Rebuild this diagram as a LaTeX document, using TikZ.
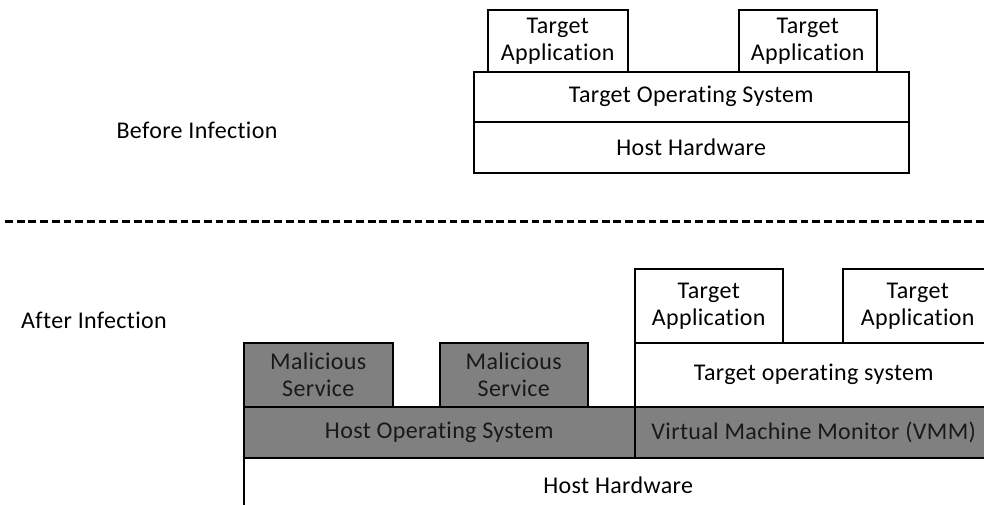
\documentclass[tikz,border=0pt]{standalone}
\usepackage{fontspec}
\setmainfont{Carlito}[Ligatures={NoCommon,NoContextual}, LetterSpace=1.5]

\begin{document}
\begin{tikzpicture}[x=0.5pt,y=-0.5pt,font=\fontsize{12}{13.5}\selectfont,
    layer/.style={draw, line width=0.75pt, anchor=north west, inner sep=0pt, align=center},
    infected/.style={layer, fill=black!50, text=black!90}]

            \useasboundingbox (0,0) rectangle (984,504);

            % before infection

            \node [] (before) at (197,130) {Before Infection};

            \node [layer, minimum width=70pt, minimum height=31pt] (tapp1) at (487,9) {Target\\Application};
            \node [layer, minimum width=69pt, minimum height=31pt] (tapp2) at (738,9) {Target\\Application};

            \node [layer, minimum width=217.5pt, minimum height=25pt] (tos) at (473,71) {Target Operating System};
            \node [layer, minimum width=217.5pt, minimum height=25.5pt] (thw) at (473,121) {Host Hardware};

            % separator

            \draw[line width=1.5pt, dash pattern=on 3.9pt off 1.95pt] (5,221) -- (990,221);

            % after infection

            \node [] (after) at (94,320) {After Infection};

            \node [layer, minimum width=374.5pt, minimum height=27.5pt] (hhw) at (243,457) {Host Hardware};

            \node [infected, minimum width=195.5pt, minimum height=25.5pt] (hos) at (243,406) {Host Operating System};
            \node [infected, minimum width=179pt, minimum height=25.5pt] (vmm) at (634,406) {Virtual Machine Monitor (VMM)};

            \node [infected, minimum width=74.5pt, minimum height=32pt] (mal1) at (243,342) {Malicious\\Service};
            \node [infected, minimum width=74pt, minimum height=32pt] (mal2) at (439,342) {Malicious\\Service};

            \node [layer, minimum width=179pt, minimum height=32pt] (gos) at (634,342) {Target operating system};

            \node [layer, minimum width=74pt, minimum height=37pt] (gapp1) at (634,268) {Target\\Application};
            \node [layer, minimum width=75pt, minimum height=37pt] (gapp2) at (842,268) {Target\\Application};

        \end{tikzpicture}
\end{document}
